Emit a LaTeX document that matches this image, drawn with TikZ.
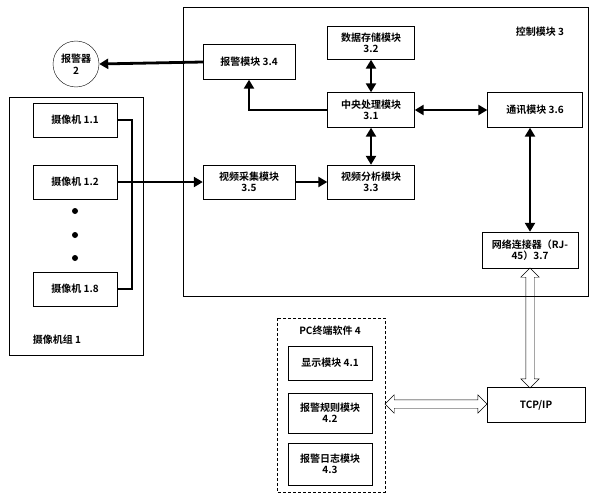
\documentclass[tikz,border=0pt]{standalone}
\usepackage{fontspec}
\setmainfont{Noto Sans CJK SC}[BoldFont={Noto Sans CJK SC Bold}]
\usetikzlibrary{arrows.meta,shapes.arrows}
\begin{document}
\begin{tikzpicture}[x=1pt,y=-1pt,font=\bfseries\fontsize{10}{11.5}\selectfont,
  box/.style={draw,thin,inner sep=0pt,align=center},
  grp/.style={draw,thin},
  link/.style={line width=2.8pt,-{Triangle[length=9pt,width=10pt]}},
  both/.style={line width=2.8pt,{Triangle[length=9pt,width=10pt]}-{Triangle[length=9pt,width=10pt]}},
  hollow/.style={draw,double arrow,double arrow head extend=5pt,inner xsep=0pt,inner ysep=4pt,thin}]
\useasboundingbox (0,0) rectangle (601,500);
% groups
\draw[grp] (183,7) rectangle (588,296);
\draw[grp] (9,97) rectangle (143,355);
\draw[grp,densely dashed] (277,318) rectangle (385,492);
\node (ctl) at (540,32) {控制模块 3};
\node (cams) at (57,340) {摄像机组 1};
\node (pc) at (330,331) {PC终端软件 4};
% cameras
\node[box,minimum width=84pt,minimum height=34pt] (c1) at (75,120) {摄像机 1.1};
\node[box,minimum width=84pt,minimum height=34pt] (c2) at (75,182) {摄像机 1.2};
\node[box,minimum width=84pt,minimum height=34pt] (c8) at (75,289) {摄像机 1.8};
\foreach \y in {211,235,258}
  \fill (75,\y) circle (3pt);
\node[draw,circle,thin,minimum size=46pt,inner sep=0pt,align=center] (bell) at (76,64) {报警器\\2};
% control modules
\node[box,minimum width=92pt,minimum height=35pt] (m34) at (249,62) {报警模块 3.4};
\node[box,minimum width=92pt,minimum height=34pt] (m35) at (249,182) {视频采集模块\\3.5};
\node[box,minimum width=87pt,minimum height=33pt] (m32) at (371,43) {数据存储模块\\3.2};
\node[box,minimum width=87pt,minimum height=35pt] (m31) at (371,110) {中央处理模块\\3.1};
\node[box,minimum width=87pt,minimum height=34pt] (m33) at (371,182) {视频分析模块\\3.3};
\node[box,minimum width=95pt,minimum height=35pt] (m36) at (535,110) {通讯模块 3.6};
\node[box,minimum width=96pt,minimum height=36pt] (m37) at (530,250) {网络连接器（RJ-\\45）3.7};
% pc side
\node[box,minimum width=98pt,minimum height=35pt] (tcp) at (536,405) {TCP/IP};
\node[box,minimum width=84pt,minimum height=34pt] (p1) at (330,363) {显示模块 4.1};
\node[box,minimum width=84pt,minimum height=40pt] (p2) at (330,413) {报警规则模块\\4.2};
\node[box,minimum width=84pt,minimum height=42pt] (p3) at (330,464) {报警日志模块\\4.3};
% connectors
\coordinate (bus) at (132,120);
\draw[line width=2.8pt,line join=miter] (c1.east) -- (bus) |- (c8.east);
\draw[link] (c2.east) -- (m35.west);
\draw[link] (m35.east) -- (m33.west);
\draw[link] (m34.west) -- (bell.east);
\draw[link] (m31.west) -| (m34.south);
\draw[both] (m32.south) -- (m31.north);
\draw[both] (m31.south) -- (m33.north);
\draw[both] (m31.east) -- (m36.west);
\draw[both] (m36.south-|m37.north) -- (m37.north);
\node[hollow,minimum height=120pt,rotate=90] (v) at (530,328) {};
\node[hollow,minimum height=102pt] (h) at (436,404) {};
\end{tikzpicture}
\end{document}
